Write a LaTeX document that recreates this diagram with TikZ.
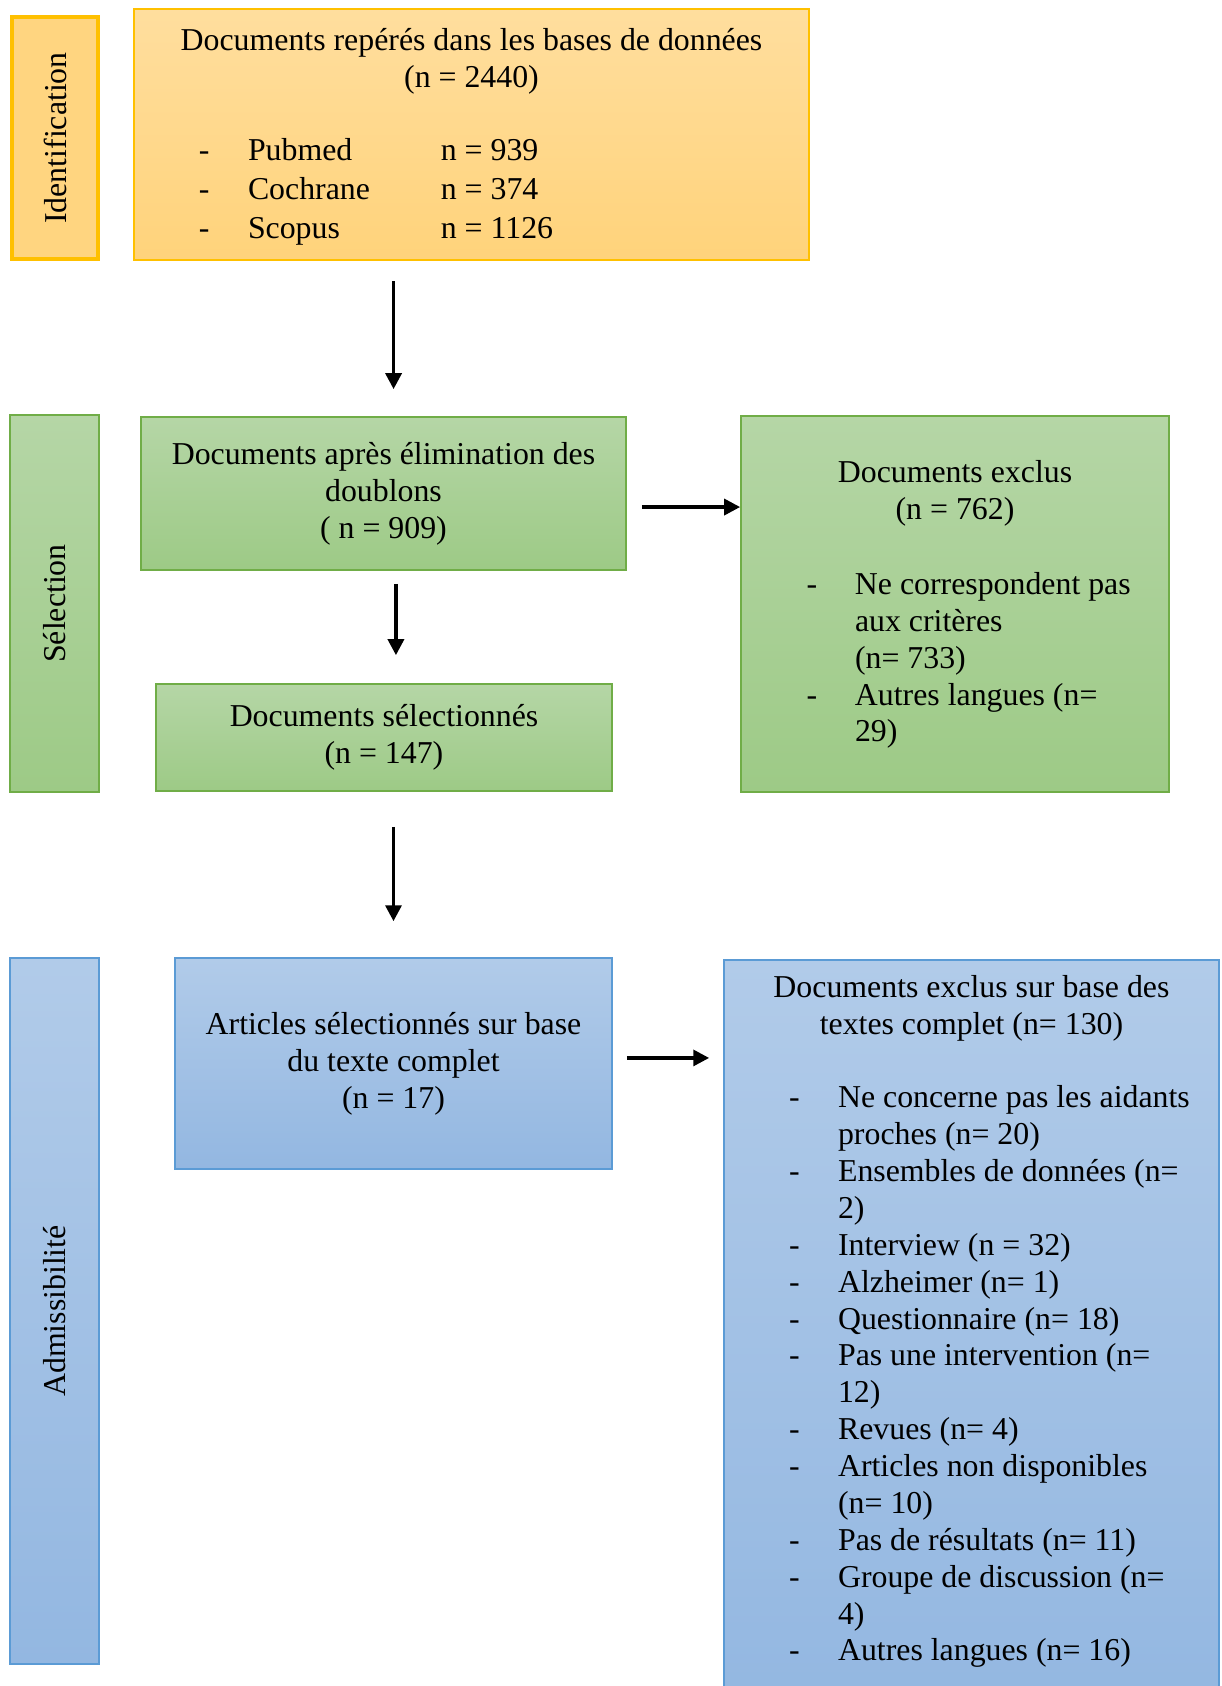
\documentclass[tikz,border=0pt]{standalone}
\usepackage{fontspec}
\setmainfont{Liberation Serif}
\usepackage{tikz}
\usetikzlibrary{arrows.meta, positioning}
\usepackage{xcolor}

\definecolor{goldline}{HTML}{FFC000}
\definecolor{goldtop}{HTML}{FFDE9E}
\definecolor{goldbot}{HTML}{FFD37B}
\definecolor{goldlab}{HTML}{FFD580}
\definecolor{greenline}{HTML}{70AD47}
\definecolor{greentop}{HTML}{B5D6A6}
\definecolor{greenbot}{HTML}{9DCA86}
\definecolor{blueline}{HTML}{5B9BD5}
\definecolor{bluetop}{HTML}{B1CBE9}
\definecolor{bluebot}{HTML}{93B7E1}

\begin{document}
\begin{tikzpicture}[
x=0.377pt, y=-0.377pt,
font=\fontsize{12pt}{13.9pt}\selectfont,
box/.style={draw,
rectangle,
line width=0.6pt,
inner sep=0pt},
goldbox/.style={box, draw=goldline, top color=goldtop, bottom color=goldbot},
greenbox/.style={box, draw=greenline, top color=greentop, bottom color=greenbot},
bluebox/.style={box, draw=blueline, top color=bluetop, bottom color=bluebot},
arrow/.style={-{Triangle[length=6pt, width=6pt]}, line width=1.3pt}
]

\useasboundingbox (0,0) rectangle (1222,1686);

% phases
\node[box, draw=goldline, line width=1.6pt, fill=goldlab, minimum width=32.3pt, minimum height=91.1pt] (idlab) at (55,138) {\rotatebox{90}{Identification}};
\node[greenbox, minimum width=33.6pt, minimum height=142.1pt] (sellab) at (54.5,603.5) {\rotatebox{90}{Sélection}};
\node[bluebox, minimum width=33.6pt, minimum height=266.2pt] (admlab) at (54.5,1311) {\rotatebox{90}{Admissibilité}};

% identification
\node[goldbox, anchor=north, inner ysep=7.3pt] (found) at (471.5,8) {\parbox[t][80pt][t]{254.5pt}{%
{\centering Documents repérés dans les bases de données\\(n = 2440)\par}
\vspace{13.8pt}
\renewcommand\arraystretch{1.05}%
\hspace*{24.5pt}\begin{tabular}[t]{@{}p{18.5pt}@{}p{72.7pt}@{}l@{}}
- & Pubmed & n = 939\\
- & Cochrane & n = 374\\
- & Scopus & n = 1126
\end{tabular}}};

% selection
\node[greenbox, minimum width=182.8pt, minimum height=57.7pt, align=center] (dedup) at (383.5,493.5) {Documents après élimination des\\doublons\\( n = 909)};
\node[greenbox, minimum width=171.9pt, minimum height=40.3pt, align=center] (selected) at (384,737.5) {Documents sélectionnés\\(n = 147)};
\node[greenbox, anchor=north, inner ysep=16.7pt] (excl1) at (955,415) {\parbox[t][108.4pt][t]{161.4pt}{%
{\centering Documents exclus\\(n = 762)\par}
\vspace{14.5pt}
\hspace*{24.8pt}\begin{tabular}[t]{@{}p{18.2pt}@{}l@{}}
- & Ne correspondent pas\\
  & aux critères\\
  & (n= 733)\\
- & Autres langues (n=\\
  & 29)
\end{tabular}}};

% admissibilite
\node[bluebox, minimum width=164.7pt, minimum height=79.5pt, align=center] (fulltext) at (393.5,1063.5) {Articles sélectionnés sur base\\du texte complet\\(n = 17)};
\node[bluebox, anchor=north, inner ysep=5.8pt] (excl2) at (971.5,959) {\parbox[t][271pt][t]{186.6pt}{%
{\centering Documents exclus sur base des\\textes complet (n= 130)\par}
\vspace{13.9pt}
\hspace*{24.5pt}\begin{tabular}[t]{@{}p{18.5pt}@{}l@{}}
- & Ne concerne pas les aidants\\
  & proches (n= 20)\\
- & Ensembles de données (n=\\
  & 2)\\
- & Interview (n = 32)\\
- & Alzheimer (n= 1)\\
- & Questionnaire (n= 18)\\
- & Pas une intervention (n=\\
  & 12)\\
- & Revues (n= 4)\\
- & Articles non disponibles\\
  & (n= 10)\\
- & Pas de résultats (n= 11)\\
- & Groupe de discussion (n=\\
  & 4)\\
- & Autres langues (n= 16)
\end{tabular}}};

\coordinate (down1) at ([xshift=3.8pt]dedup.north);
\coordinate (down2) at ([xshift=4.5pt]selected.north);

\draw[arrow, shorten <=7.9pt, shorten >=10.2pt] (down1 |- found.south) -- (down1);
\draw[arrow, shorten <=5.7pt] ([yshift=-5.1pt]dedup.east) -- ([yshift=-5.1pt]dedup.east -| excl1.west);
\draw[arrow, shorten <=4.9pt, shorten >=10.6pt] (down2 |- dedup.south) -- (down2);
\draw[arrow, shorten <=13.2pt, shorten >=13.6pt] (fulltext.north |- selected.south) -- (fulltext.north);
\draw[arrow, shorten <=5.3pt, shorten >=5.3pt] ([yshift=2.1pt]fulltext.east) -- ([yshift=2.1pt]fulltext.east -| excl2.west);

\end{tikzpicture}
\end{document}
